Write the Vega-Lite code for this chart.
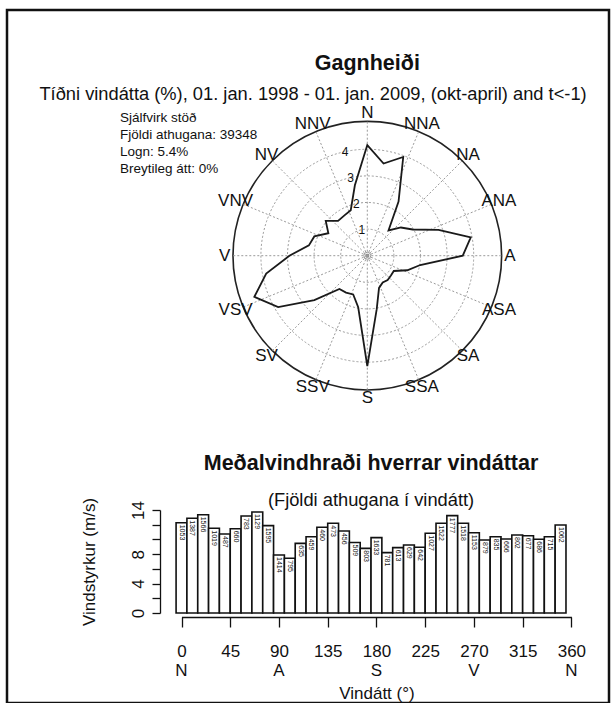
{
  "$schema": "https://vega.github.io/schema/vega-lite/v6.json",
  "width": 602,
  "height": 693,
  "padding": {"left": 7, "top": 10, "right": 6, "bottom": 0},
  "autosize": {"type": "none"},
  "background": "white",
  "config": {
    "view": {"stroke": "#111", "strokeWidth": 2.5},
    "font": "Liberation Sans",
    "text": {"font": "Liberation Sans", "color": "#111"},
    "axis": {"labelFont": "Liberation Sans", "titleFont": "Liberation Sans", "grid": false}
  },
  "datasets": {
    "rose": [
      {"dir": 0, "pct": 4.16}, {"dir": 10, "pct": 3.52}, {"dir": 20, "pct": 3.95}, {"dir": 30, "pct": 2.35},
      {"dir": 40, "pct": 1.24}, {"dir": 50, "pct": 1.65}, {"dir": 60, "pct": 1.97}, {"dir": 70, "pct": 2.85},
      {"dir": 80, "pct": 3.95}, {"dir": 90, "pct": 3.59}, {"dir": 100, "pct": 2.02}, {"dir": 110, "pct": 1.6},
      {"dir": 120, "pct": 1.15}, {"dir": 130, "pct": 1.16}, {"dir": 140, "pct": 1.19}, {"dir": 150, "pct": 1.16},
      {"dir": 160, "pct": 1.29}, {"dir": 170, "pct": 2.04}, {"dir": 180, "pct": 4.15}, {"dir": 190, "pct": 1.97},
      {"dir": 200, "pct": 1.55}, {"dir": 210, "pct": 1.6}, {"dir": 220, "pct": 1.63}, {"dir": 230, "pct": 2.6},
      {"dir": 240, "pct": 3.87}, {"dir": 250, "pct": 4.52}, {"dir": 260, "pct": 3.86}, {"dir": 270, "pct": 2.93},
      {"dir": 280, "pct": 2.23}, {"dir": 290, "pct": 2.12}, {"dir": 300, "pct": 1.69}, {"dir": 310, "pct": 2.04},
      {"dir": 320, "pct": 1.71}, {"dir": 330, "pct": 1.74}, {"dir": 340, "pct": 1.82}, {"dir": 350, "pct": 2.69}
    ],
    "bars": [
      {"dir": 0, "speed": 12.27, "n": 1053}, {"dir": 10, "speed": 12.87, "n": 1387}, {"dir": 20, "speed": 13.36, "n": 1566},
      {"dir": 30, "speed": 11.51, "n": 1019}, {"dir": 40, "speed": 10.74, "n": 487}, {"dir": 50, "speed": 11.46, "n": 660},
      {"dir": 60, "speed": 13.18, "n": 783}, {"dir": 70, "speed": 13.73, "n": 1129}, {"dir": 80, "speed": 11.87, "n": 1595},
      {"dir": 90, "speed": 7.88, "n": 1414}, {"dir": 100, "speed": 7.44, "n": 795}, {"dir": 110, "speed": 9.47, "n": 635},
      {"dir": 120, "speed": 10.37, "n": 459}, {"dir": 130, "speed": 11.65, "n": 460}, {"dir": 140, "speed": 12.19, "n": 473},
      {"dir": 150, "speed": 11.15, "n": 456}, {"dir": 160, "speed": 9.58, "n": 509}, {"dir": 170, "speed": 8.79, "n": 803},
      {"dir": 180, "speed": 10.24, "n": 1633}, {"dir": 190, "speed": 8.2, "n": 781}, {"dir": 200, "speed": 8.88, "n": 613},
      {"dir": 210, "speed": 9.24, "n": 629}, {"dir": 220, "speed": 8.93, "n": 642}, {"dir": 230, "speed": 10.83, "n": 1027},
      {"dir": 240, "speed": 12.19, "n": 1522}, {"dir": 250, "speed": 13.23, "n": 1777}, {"dir": 260, "speed": 12.19, "n": 1518},
      {"dir": 270, "speed": 10.91, "n": 1153}, {"dir": 280, "speed": 9.92, "n": 879}, {"dir": 290, "speed": 10.37, "n": 835},
      {"dir": 300, "speed": 10.06, "n": 666}, {"dir": 310, "speed": 10.6, "n": 802}, {"dir": 320, "speed": 10.51, "n": 677},
      {"dir": 330, "speed": 10.02, "n": 686}, {"dir": 340, "speed": 10.37, "n": 715}, {"dir": 350, "speed": 11.96, "n": 1062}
    ],
    "compass": [
      {"dir": 0, "label": "N"}, {"dir": 22.5, "label": "NNA"}, {"dir": 45, "label": "NA"}, {"dir": 67.5, "label": "ANA"},
      {"dir": 90, "label": "A"}, {"dir": 112.5, "label": "ASA"}, {"dir": 135, "label": "SA"}, {"dir": 157.5, "label": "SSA"},
      {"dir": 180, "label": "S"}, {"dir": 202.5, "label": "SSV"}, {"dir": 225, "label": "SV"}, {"dir": 247.5, "label": "VSV"},
      {"dir": 270, "label": "V"}, {"dir": 292.5, "label": "VNV"}, {"dir": 315, "label": "NV"}, {"dir": 337.5, "label": "NNV"}
    ],
    "axisletters": [
      {"dir": 0, "label": "N"}, {"dir": 90, "label": "A"}, {"dir": 180, "label": "S"}, {"dir": 270, "label": "V"}, {"dir": 360, "label": "N"}
    ],
    "rings": [{"r": 1}, {"r": 2}, {"r": 3}, {"r": 4}],
    "outer": [{"r": 5.05}],
    "centre": [{"r": 0.13}]
  },
  "layer": [
    {
      "layer": [
        {
          "data": {"name": "rings"},
          "transform": [{"calculate": "0", "as": "o"}],
          "mark": {"type": "point", "shape": "circle", "filled": false, "stroke": "#9a9a9a", "strokeWidth": 1, "strokeDash": [2, 2], "opacity": 1},
          "encoding": {
            "x": {"field": "o", "type": "quantitative", "scale": {"domain": [-5.05, 5.05], "range": [226.0, 494.6], "nice": false, "zero": false}, "axis": null},
            "y": {"field": "o", "type": "quantitative", "scale": {"domain": [-5.05, 5.05], "range": [380.0, 111.4], "nice": false, "zero": false}, "axis": null},
            "size": {"field": "r", "type": "quantitative", "legend": null, "scale": {"type": "pow", "exponent": 2, "domain": [0, 1], "range": [0, 2830.24], "zero": true, "nice": false}}
          }
        },
        {
          "data": {"name": "outer"},
          "transform": [{"calculate": "0", "as": "o"}],
          "mark": {"type": "point", "shape": "circle", "filled": false, "stroke": "#222", "strokeWidth": 1.6, "opacity": 1},
          "encoding": {
            "x": {"field": "o", "type": "quantitative", "scale": {"domain": [-5.05, 5.05], "range": [226.0, 494.6], "nice": false, "zero": false}, "axis": null},
            "y": {"field": "o", "type": "quantitative", "scale": {"domain": [-5.05, 5.05], "range": [380.0, 111.4], "nice": false, "zero": false}, "axis": null},
            "size": {"field": "r", "type": "quantitative", "legend": null, "scale": {"type": "pow", "exponent": 2, "domain": [0, 1], "range": [0, 2830.24], "zero": true, "nice": false}}
          }
        },
        {
          "data": {"name": "centre"},
          "transform": [{"calculate": "0", "as": "o"}],
          "mark": {"type": "point", "shape": "circle", "filled": false, "stroke": "#9a9a9a", "strokeWidth": 1, "opacity": 1},
          "encoding": {
            "x": {"field": "o", "type": "quantitative", "scale": {"domain": [-5.05, 5.05], "range": [226.0, 494.6], "nice": false, "zero": false}, "axis": null},
            "y": {"field": "o", "type": "quantitative", "scale": {"domain": [-5.05, 5.05], "range": [380.0, 111.4], "nice": false, "zero": false}, "axis": null},
            "size": {"field": "r", "type": "quantitative", "legend": null, "scale": {"type": "pow", "exponent": 2, "domain": [0, 1], "range": [0, 2830.24], "zero": true, "nice": false}}
          }
        },
        {
          "data": {"name": "centre"},
          "transform": [{"calculate": "0", "as": "o"}],
          "mark": {"type": "square", "size": 9, "filled": true, "color": "#111", "opacity": 1},
          "encoding": {
            "x": {"field": "o", "type": "quantitative", "scale": {"domain": [-5.05, 5.05], "range": [226.0, 494.6], "nice": false, "zero": false}, "axis": null},
            "y": {"field": "o", "type": "quantitative", "scale": {"domain": [-5.05, 5.05], "range": [380.0, 111.4], "nice": false, "zero": false}, "axis": null}
          }
        },
        {
          "data": {"name": "compass"},
          "transform": [
            {"calculate": "0", "as": "o"},
            {"calculate": "5.05*sin(datum.dir*PI/180)", "as": "sx"},
            {"calculate": "5.05*cos(datum.dir*PI/180)", "as": "sy"}
          ],
          "mark": {"type": "rule", "stroke": "#9a9a9a", "strokeWidth": 1, "strokeDash": [2, 2]},
          "encoding": {
            "x": {"field": "o", "type": "quantitative", "scale": {"domain": [-5.05, 5.05], "range": [226.0, 494.6], "nice": false, "zero": false}, "axis": null},
            "y": {"field": "o", "type": "quantitative", "scale": {"domain": [-5.05, 5.05], "range": [380.0, 111.4], "nice": false, "zero": false}, "axis": null},
            "x2": {"field": "sx"},
            "y2": {"field": "sy"}
          }
        },
        {
          "data": {"name": "rose"},
          "transform": [
            {"calculate": "datum.pct*sin(datum.dir*PI/180)", "as": "px"},
            {"calculate": "datum.pct*cos(datum.dir*PI/180)", "as": "py"}
          ],
          "mark": {"type": "line", "interpolate": "linear-closed", "stroke": "#1a1a1a", "strokeWidth": 1.8},
          "encoding": {
            "x": {"field": "px", "type": "quantitative", "scale": {"domain": [-5.05, 5.05], "range": [226.0, 494.6], "nice": false, "zero": false}, "axis": null},
            "y": {"field": "py", "type": "quantitative", "scale": {"domain": [-5.05, 5.05], "range": [380.0, 111.4], "nice": false, "zero": false}, "axis": null},
            "order": {"field": "dir", "type": "quantitative"}
          }
        },
        {
          "data": {"name": "compass"},
          "transform": [
            {"calculate": "5.36*sin(datum.dir*PI/180)", "as": "lx"},
            {"calculate": "5.36*cos(datum.dir*PI/180)", "as": "ly"}
          ],
          "mark": {"type": "text", "fontSize": 17, "align": "center", "baseline": "middle", "color": "#111"},
          "encoding": {
            "x": {"field": "lx", "type": "quantitative", "scale": {"domain": [-5.05, 5.05], "range": [226.0, 494.6], "nice": false, "zero": false}, "axis": null},
            "y": {"field": "ly", "type": "quantitative", "scale": {"domain": [-5.05, 5.05], "range": [380.0, 111.4], "nice": false, "zero": false}, "axis": null},
            "text": {"field": "label", "type": "nominal"}
          }
        },
        {
          "data": {"name": "rings"},
          "transform": [
            {"calculate": "datum.r*sin(-12*PI/180)", "as": "lx"},
            {"calculate": "datum.r*cos(-12*PI/180)", "as": "ly"}
          ],
          "mark": {"type": "text", "fontSize": 12, "align": "center", "baseline": "middle", "color": "#111"},
          "encoding": {
            "x": {"field": "lx", "type": "quantitative", "scale": {"domain": [-5.05, 5.05], "range": [226.0, 494.6], "nice": false, "zero": false}, "axis": null},
            "y": {"field": "ly", "type": "quantitative", "scale": {"domain": [-5.05, 5.05], "range": [380.0, 111.4], "nice": false, "zero": false}, "axis": null},
            "text": {"field": "r", "type": "nominal"}
          }
        },
        {
          "data": {"values": [
            {"t": "Gagnheiði", "cx": 0, "cy": 6.98},
            {"t": "Meðalvindhraði hverrar vindáttar", "cx": 0.14, "cy": -8.06}
          ]},
          "mark": {"type": "text", "fontSize": 21.5, "fontWeight": "bold", "align": "center", "baseline": "alphabetic", "color": "#111"},
          "encoding": {
            "x": {"field": "cx", "type": "quantitative", "scale": {"domain": [-5.05, 5.05], "range": [226.0, 494.6], "nice": false, "zero": false}, "axis": null},
            "y": {"field": "cy", "type": "quantitative", "scale": {"domain": [-5.05, 5.05], "range": [380.0, 111.4], "nice": false, "zero": false}, "axis": null},
            "text": {"field": "t", "type": "nominal"}
          }
        },
        {
          "data": {"values": [
            {"t": "Tíðni vindátta (%), 01. jan. 1998 - 01. jan. 2009, (okt-april) and t<-1)", "cx": -2.04, "cy": 5.86},
            {"t": "(Fjöldi athugana í vindátt)", "cx": 0.14, "cy": -9.43}
          ]},
          "mark": {"type": "text", "fontSize": 18.3, "align": "center", "baseline": "alphabetic", "color": "#111"},
          "encoding": {
            "x": {"field": "cx", "type": "quantitative", "scale": {"domain": [-5.05, 5.05], "range": [226.0, 494.6], "nice": false, "zero": false}, "axis": null},
            "y": {"field": "cy", "type": "quantitative", "scale": {"domain": [-5.05, 5.05], "range": [380.0, 111.4], "nice": false, "zero": false}, "axis": null},
            "text": {"field": "t", "type": "nominal"}
          }
        },
        {
          "data": {"values": [
            {"t": "Sjálfvirk stöð", "line": 0},
            {"t": "Fjöldi athugana: 39348", "line": 1},
            {"t": "Logn: 5.4%", "line": 2},
            {"t": "Breytileg átt: 0%", "line": 3}
          ]},
          "transform": [
            {"calculate": "-9.3", "as": "cx"},
            {"calculate": "5.03 - datum.line*0.64", "as": "cy"}
          ],
          "mark": {"type": "text", "fontSize": 13.5, "align": "left", "baseline": "alphabetic", "color": "#111"},
          "encoding": {
            "x": {"field": "cx", "type": "quantitative", "scale": {"domain": [-5.05, 5.05], "range": [226.0, 494.6], "nice": false, "zero": false}, "axis": null},
            "y": {"field": "cy", "type": "quantitative", "scale": {"domain": [-5.05, 5.05], "range": [380.0, 111.4], "nice": false, "zero": false}, "axis": null},
            "text": {"field": "t", "type": "nominal"}
          }
        }
      ]
    },
    {
      "layer": [
        {
          "data": {"name": "bars"},
          "transform": [
            {"calculate": "datum.dir - 5", "as": "lo"},
            {"calculate": "datum.dir + 5", "as": "hi"}
          ],
          "mark": {"type": "bar", "fill": "white", "stroke": "#111", "strokeWidth": 1.6},
          "encoding": {
            "x": {
              "field": "lo", "type": "quantitative",
              "title": "Vindátt (°)",
              "scale": {"domain": [0, 360], "range": [174.5, 564.4], "nice": false, "zero": false},
              "axis": {
                "orient": "bottom", "offset": -86, "values": [0, 45, 90, 135, 180, 225, 270, 315, 360],
                "domainColor": "#111", "domainWidth": 1.3, "tickColor": "#111", "tickWidth": 1.3, "tickSize": 10,
                "labelFontSize": 17, "labelColor": "#111", "labelPadding": 16,
                "labelFlush": false, "labelOverlap": false,
                "titleFontSize": 17, "titleFontWeight": "normal", "titleColor": "#111", "titlePadding": 26
              }
            },
            "x2": {"field": "hi"},
            "y": {
              "field": "speed", "type": "quantitative", "title": "Vindstyrkur (m/s)",
              "scale": {"domain": [0, 14], "range": [603, 500], "nice": false, "zero": false},
              "axis": {
                "orient": "left", "offset": -153, "values": [0, 2, 4, 6, 8, 10, 12, 14],
                "domainColor": "#111", "domainWidth": 1.3, "tickColor": "#111", "tickWidth": 1.3, "tickSize": 8,
                "labelFontSize": 17, "labelColor": "#111", "labelPadding": 5, "labelAngle": 270,
                "labelAlign": "center", "labelBaseline": "bottom", "labelFlush": false, "labelOverlap": false,
                "labelExpr": "(datum.value == 0 || datum.value == 4 || datum.value == 8 || datum.value == 14) ? datum.label : ''",
                "titleFontSize": 17, "titleFontWeight": "normal", "titleColor": "#111", "titlePadding": 31
              }
            },
            "y2": {"datum": 0}
          }
        },
        {
          "data": {"name": "bars"},
          "mark": {"type": "text", "angle": 90, "align": "left", "baseline": "middle", "dx": 2, "fontSize": 7, "color": "#111"},
          "encoding": {
            "x": {"field": "dir", "type": "quantitative", "title": "Vindátt (°)", "scale": {"domain": [0, 360], "range": [174.5, 564.4], "nice": false, "zero": false}},
            "y": {"field": "speed", "type": "quantitative", "title": "Vindstyrkur (m/s)", "scale": {"domain": [0, 14], "range": [603, 500], "nice": false, "zero": false}},
            "text": {"field": "n", "type": "nominal"}
          }
        },
        {
          "data": {"name": "axisletters"},
          "mark": {"type": "text", "align": "center", "baseline": "alphabetic", "fontSize": 17, "color": "#111"},
          "encoding": {
            "x": {"field": "dir", "type": "quantitative", "title": "Vindátt (°)", "scale": {"domain": [0, 360], "range": [174.5, 564.4], "nice": false, "zero": false}},
            "y": {"datum": -8.5, "type": "quantitative", "title": "Vindstyrkur (m/s)", "scale": {"domain": [0, 14], "range": [603, 500], "nice": false, "zero": false}},
            "text": {"field": "label", "type": "nominal"}
          }
        }
      ]
    }
  ],
  "resolve": {"scale": {"x": "independent", "y": "independent"}}
}
